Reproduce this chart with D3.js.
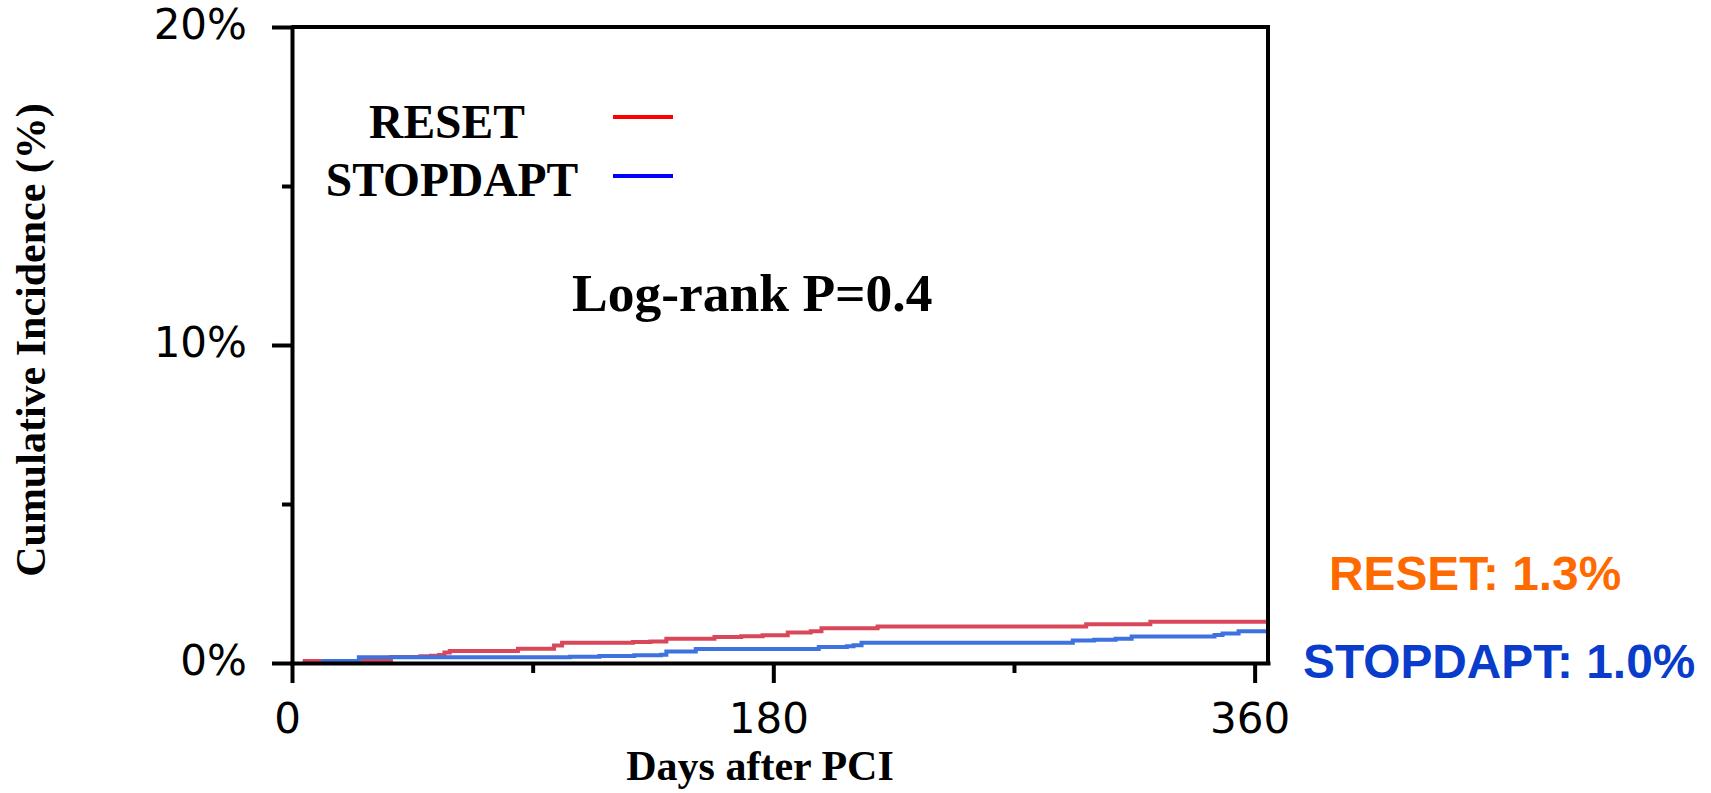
<!DOCTYPE html>
<html>
<head>
<meta charset="utf-8">
<script src="https://cdn.jsdelivr.net/npm/d3@7"></script>
<style>
  html, body { margin: 0; padding: 0; background: #fff; }
  svg { display: block; }
</style>
</head>
<body>
<svg id="chart" width="1711" height="793"></svg>
<script>
// Kaplan-Meier style cumulative incidence, [day, percent]
const resetSteps = [
  [4, 0.06], [37, 0.19], [48, 0.21], [52, 0.23], [55, 0.25], [57, 0.33], [59, 0.38],
  [84.5, 0.45], [98, 0.55], [101, 0.64], [127.5, 0.66], [134, 0.68], [140, 0.76],
  [158, 0.82], [168, 0.84], [176, 0.87], [185.4, 0.96], [194, 1.0], [198, 1.09],
  [219, 1.15], [297, 1.22], [321, 1.3]
];
const stopdaptSteps = [
  [11, 0.06], [25, 0.18], [104, 0.2], [115, 0.22], [128, 0.24], [138, 0.26], [140, 0.36],
  [151, 0.44], [197, 0.5], [207.5, 0.53], [210, 0.56], [213, 0.64], [292, 0.71],
  [300, 0.73], [308, 0.76], [314, 0.83], [345, 0.88], [348, 0.93], [354, 1.0]
];
const followUpEnd = 365;

const xMajorTicks = [0, 180, 360];
const xMinorTicks = [90, 270];
const yMajorTicks = [0, 10, 20];
const yMinorTicks = [5, 15];

const groups = ["RESET", "STOPDAPT"];
const curveColors = ["#d9485a", "#3e72df"];
const legendColors = ["#ff0000", "#0000ff"];
const summaryColors = ["#ff6a00", "#0a3ccc"];

(function draw() {
  const svg = d3.select("#chart");
  const plotLeft = 292, plotRight = 1268, plotTop = 27, plotBottom = 663;

  const x = d3.scaleLinear().domain([0, followUpEnd]).range([plotLeft, plotRight]);
  const y = d3.scaleLinear().domain([0, 20]).range([plotBottom, plotTop]);

  // curves
  const line = d3.line()
    .x(d => x(d[0]))
    .y(d => y(d[1]))
    .curve(d3.curveStepAfter);

  [resetSteps, stopdaptSteps].forEach((steps, i) => {
    const pts = steps.concat([[followUpEnd, steps[steps.length - 1][1]]]);
    svg.append("path")
      .datum(pts)
      .attr("fill", "none")
      .attr("stroke", curveColors[i])
      .attr("stroke-width", 4)
      .attr("d", line);
  });

  // frame (top and right)
  svg.append("path")
    .attr("d", `M${plotLeft},${plotTop}H${plotRight}V${plotBottom}`)
    .attr("fill", "none")
    .attr("stroke", "#000")
    .attr("stroke-width", 4);

  function styleAxis(g) {
    g.selectAll("path, line").attr("stroke", "#000").attr("stroke-width", 4);
    g.select(".domain").attr("stroke-linecap", "square");
  }

  // y axis
  const yAxis = svg.append("g").attr("transform", `translate(${plotLeft},0)`)
    .call(d3.axisLeft(y).tickValues(yMajorTicks).tickSize(20).tickSizeOuter(0).tickFormat(d => d + "%"));
  yAxis.call(styleAxis);
  yAxis.selectAll("text")
    .attr("font-family", "DejaVu Sans")
    .attr("font-size", 42)
    .attr("fill", "#000")
    .attr("x", -45)
    .attr("dy", 11);

  svg.append("g").attr("transform", `translate(${plotLeft},0)`)
    .call(d3.axisLeft(y).tickValues(yMinorTicks).tickSize(10).tickFormat(""))
    .call(g => g.select(".domain").remove())
    .call(styleAxis);

  // x axis
  const xAxis = svg.append("g").attr("transform", `translate(0,${plotBottom})`)
    .call(d3.axisBottom(x).tickValues(xMajorTicks).tickSize(20).tickSizeOuter(0));
  xAxis.call(styleAxis);
  xAxis.selectAll("text")
    .attr("font-family", "DejaVu Sans")
    .attr("font-size", 42)
    .attr("fill", "#000")
    .attr("x", -5)
    .attr("y", 70)
    .attr("dy", 0);

  svg.append("g").attr("transform", `translate(0,${plotBottom})`)
    .call(d3.axisBottom(x).tickValues(xMinorTicks).tickSize(10).tickFormat(""))
    .call(g => g.select(".domain").remove())
    .call(styleAxis);

  // axis titles
  svg.append("text")
    .attr("x", 760).attr("y", 780)
    .attr("text-anchor", "middle")
    .attr("font-family", "Liberation Serif")
    .attr("font-weight", "bold")
    .attr("font-size", 42)
    .text("Days after PCI");

  svg.append("text")
    .attr("transform", "translate(45,340) rotate(-90)")
    .attr("text-anchor", "middle")
    .attr("font-family", "Liberation Serif")
    .attr("font-weight", "bold")
    .attr("font-size", 42)
    .text("Cumulative Incidence (%)");

  // legend
  const legendRows = [{ cx: 447, by: 138, ly: 117 }, { cx: 452, by: 196, ly: 176 }];
  groups.forEach((name, i) => {
    svg.append("text")
      .attr("x", legendRows[i].cx).attr("y", legendRows[i].by)
      .attr("text-anchor", "middle")
      .attr("font-family", "Liberation Serif")
      .attr("font-weight", "bold")
      .attr("font-size", 47.5)
      .text(name);
    svg.append("line")
      .attr("x1", 613).attr("x2", 673)
      .attr("y1", legendRows[i].ly).attr("y2", legendRows[i].ly)
      .attr("stroke", legendColors[i])
      .attr("stroke-width", 4);
  });

  svg.append("text")
    .attr("x", 572).attr("y", 311)
    .attr("font-family", "Liberation Serif")
    .attr("font-weight", "bold")
    .attr("font-size", 53.5)
    .text("Log-rank P=0.4");

  // one-year rates
  const finals = [resetSteps, stopdaptSteps].map(s => s[s.length - 1][1]);
  const summaryPos = [{ x: 1329, y: 590 }, { x: 1303, y: 678 }];
  groups.forEach((name, i) => {
    svg.append("text")
      .attr("x", summaryPos[i].x).attr("y", summaryPos[i].y)
      .attr("font-family", "Liberation Sans")
      .attr("font-weight", "bold")
      .attr("font-size", 47.8)
      .attr("fill", summaryColors[i])
      .text(`${name}: ${finals[i].toFixed(1)}%`);
  });
})();
</script>
</body>
</html>
